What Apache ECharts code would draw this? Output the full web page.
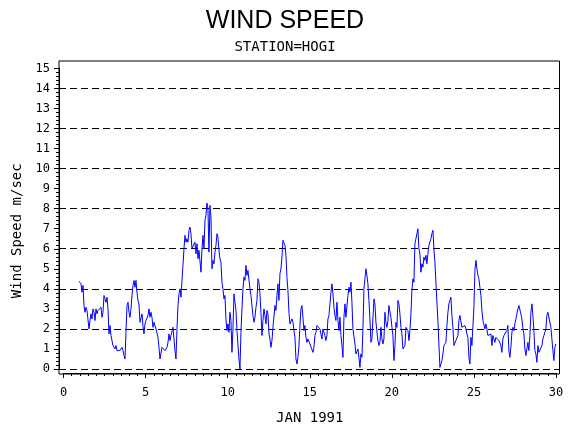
<!DOCTYPE html>
<html>
<head>
<meta charset="utf-8">
<script src="https://cdn.jsdelivr.net/npm/echarts@6/dist/echarts.min.js"></script>
<style>
html,body{margin:0;padding:0;background:#fff;}
#chart{width:570px;height:430px;}
</style>
</head>
<body>
<div id="chart"></div>
<script>
// Hourly-ish wind speed samples (m/sec), JAN 1991, station HOGI
const startDay = 0.944;        // first sample (day of month axis)
const stepDays = 0.0609;       // sampling interval (~1.46 h)
const speedA = [
4.38,4.42,4.25,3.83,4.17,3.17,2.83,3.08,2.92,3.0,
2.0,2.42,2.75,2.5,3.0,2.83,2.42,3.0,2.75,2.92,
2.83,3.0,3.08,2.58,2.83,3.67,3.5,3.33,3.58,3.0,
1.75,2.17,1.67,1.58,1.17,1.25,1.0,1.17,0.92,1.0,
0.83,0.92,1.0,1.08,0.92,0.67,0.5,1.83,3.17,3.33,
2.83,2.58,3.0,3.67,4.17,4.42,4.08,4.42,3.83,3.42,
3.25,2.33,2.25,2.75,2.17,1.75,2.25,2.42,2.33,2.67,
3.0,2.58,2.83,2.58,2.08,2.33,2.25,2.0,1.92,1.58,
1.08,0.5,0.42,1.08,1.17,1.0,0.92,0.92,1.08,1.33,
1.75,1.42,1.67,1.58,2.08,1.5,0.92,0.5,2.0,3.17,
3.75,4.0,3.58,4.42,5.17,6.0,6.67,6.33,6.5,6.33,
6.92,7.08
];
const speedB = [
6.75,6.0,6.08,5.92,6.33,5.75,6.25,5.5,5.92,6.0,
4.83,6.0,6.67,6.0,7.42,7.67,8.28,8.0,5.83,8.17,
7.58,5.0,5.42,5.25,5.83,6.17,6.75,6.58,5.92,5.5,
5.33,4.33,4.0,3.5,3.67,2.5,1.92,2.25,1.83,2.83,
2.42,0.83,2.0,3.75,3.33,2.92,1.92,2.0,0.5,0.0,
1.83,3.0,4.0,4.58,4.42,5.17,4.67,4.92,4.83,4.0,
3.67,3.17,2.67,2.33,2.58,3.08,3.42,4.5,4.33,3.75,
2.83,1.67,2.42,3.0,2.67,2.25,2.92,2.75,1.75,1.5,
1.08,1.42,2.08,2.0,3.17,2.92,3.67,4.25,3.42,4.75,
5.0,5.58,6.42,6.33,6.17,5.67,4.58,3.92,2.83,2.25,
2.33,2.5,2.33,1.92,1.58,0.5,0.25,0.58,1.17,2.17,
3.0,3.17,2.58,1.92,2.17,1.58,1.33,1.5,1.42,1.25
];
const speedC = [
1.17,1.25,0.83,1.08,1.67,1.83,2.17,2.17,2.08,2.0,
2.08,1.5,2.0,2.08,1.67,1.42,1.67,2.5,2.67,3.25,
3.83,4.25,3.75,3.08,2.67,2.42,3.33,2.42,1.92,2.58,
1.67,1.17,0.58,2.58,3.25,2.58,2.67,3.67,4.08,3.83,
4.33,3.33,2.0,1.92,1.25,0.75,0.83,1.0,0.58,0.08,
0.75,0.58,2.0,4.0,4.5,5.0,4.67,4.25,3.42,2.5,
1.33,1.5,2.5,3.5,3.25,2.33,2.25,1.42,1.17,1.33,
2.08,1.5,1.25,1.5,2.83,2.33,2.08,2.42,3.17,3.25,
2.58,2.08,1.67,0.42,1.17,2.33,2.08,3.42,3.25,2.75,
2.08,1.75,1.0,0.92,1.17,2.08,2.0,1.92,1.42,1.92,
2.75,3.92,4.5,4.33,6.25,6.5,6.75,7.0,6.0,5.75,
4.83,5.25,5.08,5.58,5.42,5.67,5.25,5.75,6.17,6.25
];
const speedD = [
6.5,6.75,6.92,6.0,5.33,4.33,3.33,2.42,1.25,0.08,
0.08,0.42,0.75,1.17,1.25,1.33,2.17,2.83,3.25,3.42,
3.58,2.67,2.08,1.17,1.25,1.42,1.33,1.67,2.42,2.67,
2.67,2.08,2.17,2.08,2.17,2.0,1.75,1.58,0.58,0.25,
1.58,1.17,1.17,3.08,4.92,5.42,5.0,4.67,4.5,4.08,
3.67,2.92,2.42,2.33,2.0,2.25,2.0,1.67,1.58,1.67,
1.75,1.17,1.67,1.5,1.33,1.58,1.58,1.58,1.42,1.5,
1.17,0.83,1.5,1.67,1.75,1.75,1.92,2.17,0.92,0.58,
1.08,1.83,2.08,1.92,2.25,2.5,2.75,3.0,3.17,3.08,
2.75,2.5,2.0,1.75,1.0,0.67,1.0,1.33,0.92,1.67,
2.83,3.25,2.67,1.92,0.92,0.75,0.33,1.17,0.83,0.83,
0.75,1.17,1.5,1.67,1.75,2.0,2.67,2.83,2.92,2.83,
2.08,2.0,0.92,0.42,1.08,1.25
];
const xTicks = {min: 0, max: 30, step: 5};
const yTicks = {min: 0, max: 15, step: 1};
const gridLineValues = {min: 0, max: 14, step: 2};
const titleText = 'WIND SPEED';
const subtitleText = 'STATION=HOGI';
const xName = 'JAN 1991';
const yName = 'Wind Speed m/sec';

const speeds = speedA.concat(speedB, speedC, speedD);
const seriesData = speeds.map((v, i) => [startDay + i * stepDays, v]);

const mono = 'DejaVu Sans Mono';
const hiddenAxis = (g) => ({gridIndex: g, type: 'value', min: 0, max: 1, show: false});
const chart = echarts.init(document.getElementById('chart'), null, {renderer: 'canvas'});
chart.setOption({
  animation: false,
  backgroundColor: '#fff',
  title: [
    {text: titleText, left: 'center', top: 4,
     textStyle: {fontFamily: 'Liberation Sans', fontSize: 25, fontWeight: 'normal', color: '#000'}},
    {text: subtitleText, left: 'center', top: 35,
     textStyle: {fontFamily: mono, fontSize: 14, fontWeight: 'normal', color: '#000'}}
  ],
  grid: [
    // 0: data
    {left: 63.5, right: 14, top: 68.4, bottom: 61},
    // 1: dashed reference lines
    {left: 59, right: 10.5, top: 88.4, bottom: 61},
    // 2: frame
    {left: 59, right: 10.5, top: 61, bottom: 56, show: true, borderColor: '#000', borderWidth: 1, backgroundColor: 'transparent'},
    // 3: x axis along the frame bottom
    {left: 63.5, right: 14, top: 61, bottom: 56},
    // 4: y axis along the frame left
    {left: 59, right: 10.5, top: 68.4, bottom: 61}
  ],
  xAxis: [
    {gridIndex: 0, type: 'value', min: xTicks.min, max: xTicks.max, show: false},
    hiddenAxis(1),
    hiddenAxis(2),
    {gridIndex: 3, type: 'value', min: xTicks.min, max: xTicks.max, interval: xTicks.step,
     position: 'bottom',
     axisLine: {show: true, onZero: false, lineStyle: {color: '#000', width: 1}},
     axisTick: {show: true, inside: false, length: 5, lineStyle: {color: '#000', width: 1}},
     minorTick: {show: true, splitNumber: 10, length: 3, lineStyle: {color: '#000', width: 1}},
     splitLine: {show: false},
     axisLabel: {margin: 14, fontFamily: mono, fontSize: 12, color: '#000'},
     name: xName, nameLocation: 'middle', nameGap: 38,
     nameTextStyle: {fontFamily: mono, fontSize: 14, color: '#000'}},
    hiddenAxis(4)
  ],
  yAxis: [
    {gridIndex: 0, type: 'value', min: yTicks.min, max: yTicks.max, show: false},
    {gridIndex: 1, type: 'value', min: gridLineValues.min, max: gridLineValues.max, interval: gridLineValues.step,
     axisLine: {show: false}, axisTick: {show: false}, axisLabel: {show: false},
     splitLine: {show: true, lineStyle: {color: '#000', width: 1, type: [7, 4]}}},
    hiddenAxis(2),
    hiddenAxis(3),
    {gridIndex: 4, type: 'value', min: yTicks.min, max: yTicks.max, interval: yTicks.step,
     position: 'left',
     axisLine: {show: true, onZero: false, lineStyle: {color: '#000', width: 1}},
     axisTick: {show: true, inside: false, length: 5, lineStyle: {color: '#000', width: 1}},
     minorTick: {show: true, splitNumber: 5, length: 3, lineStyle: {color: '#000', width: 1}},
     splitLine: {show: false},
     axisLabel: {margin: 9, fontFamily: mono, fontSize: 12, color: '#000'},
     name: yName, nameLocation: 'middle', nameGap: 32, nameRotate: 90,
     nameTextStyle: {fontFamily: mono, fontSize: 14, color: '#000', padding: [0, 24, 0, 0]}}
  ],
  series: [
    {type: 'line', xAxisIndex: 0, yAxisIndex: 0, data: seriesData,
     showSymbol: false, symbol: 'none', z: 5,
     lineStyle: {color: '#0000ff', width: 1}}
  ]
});
</script>
</body>
</html>
